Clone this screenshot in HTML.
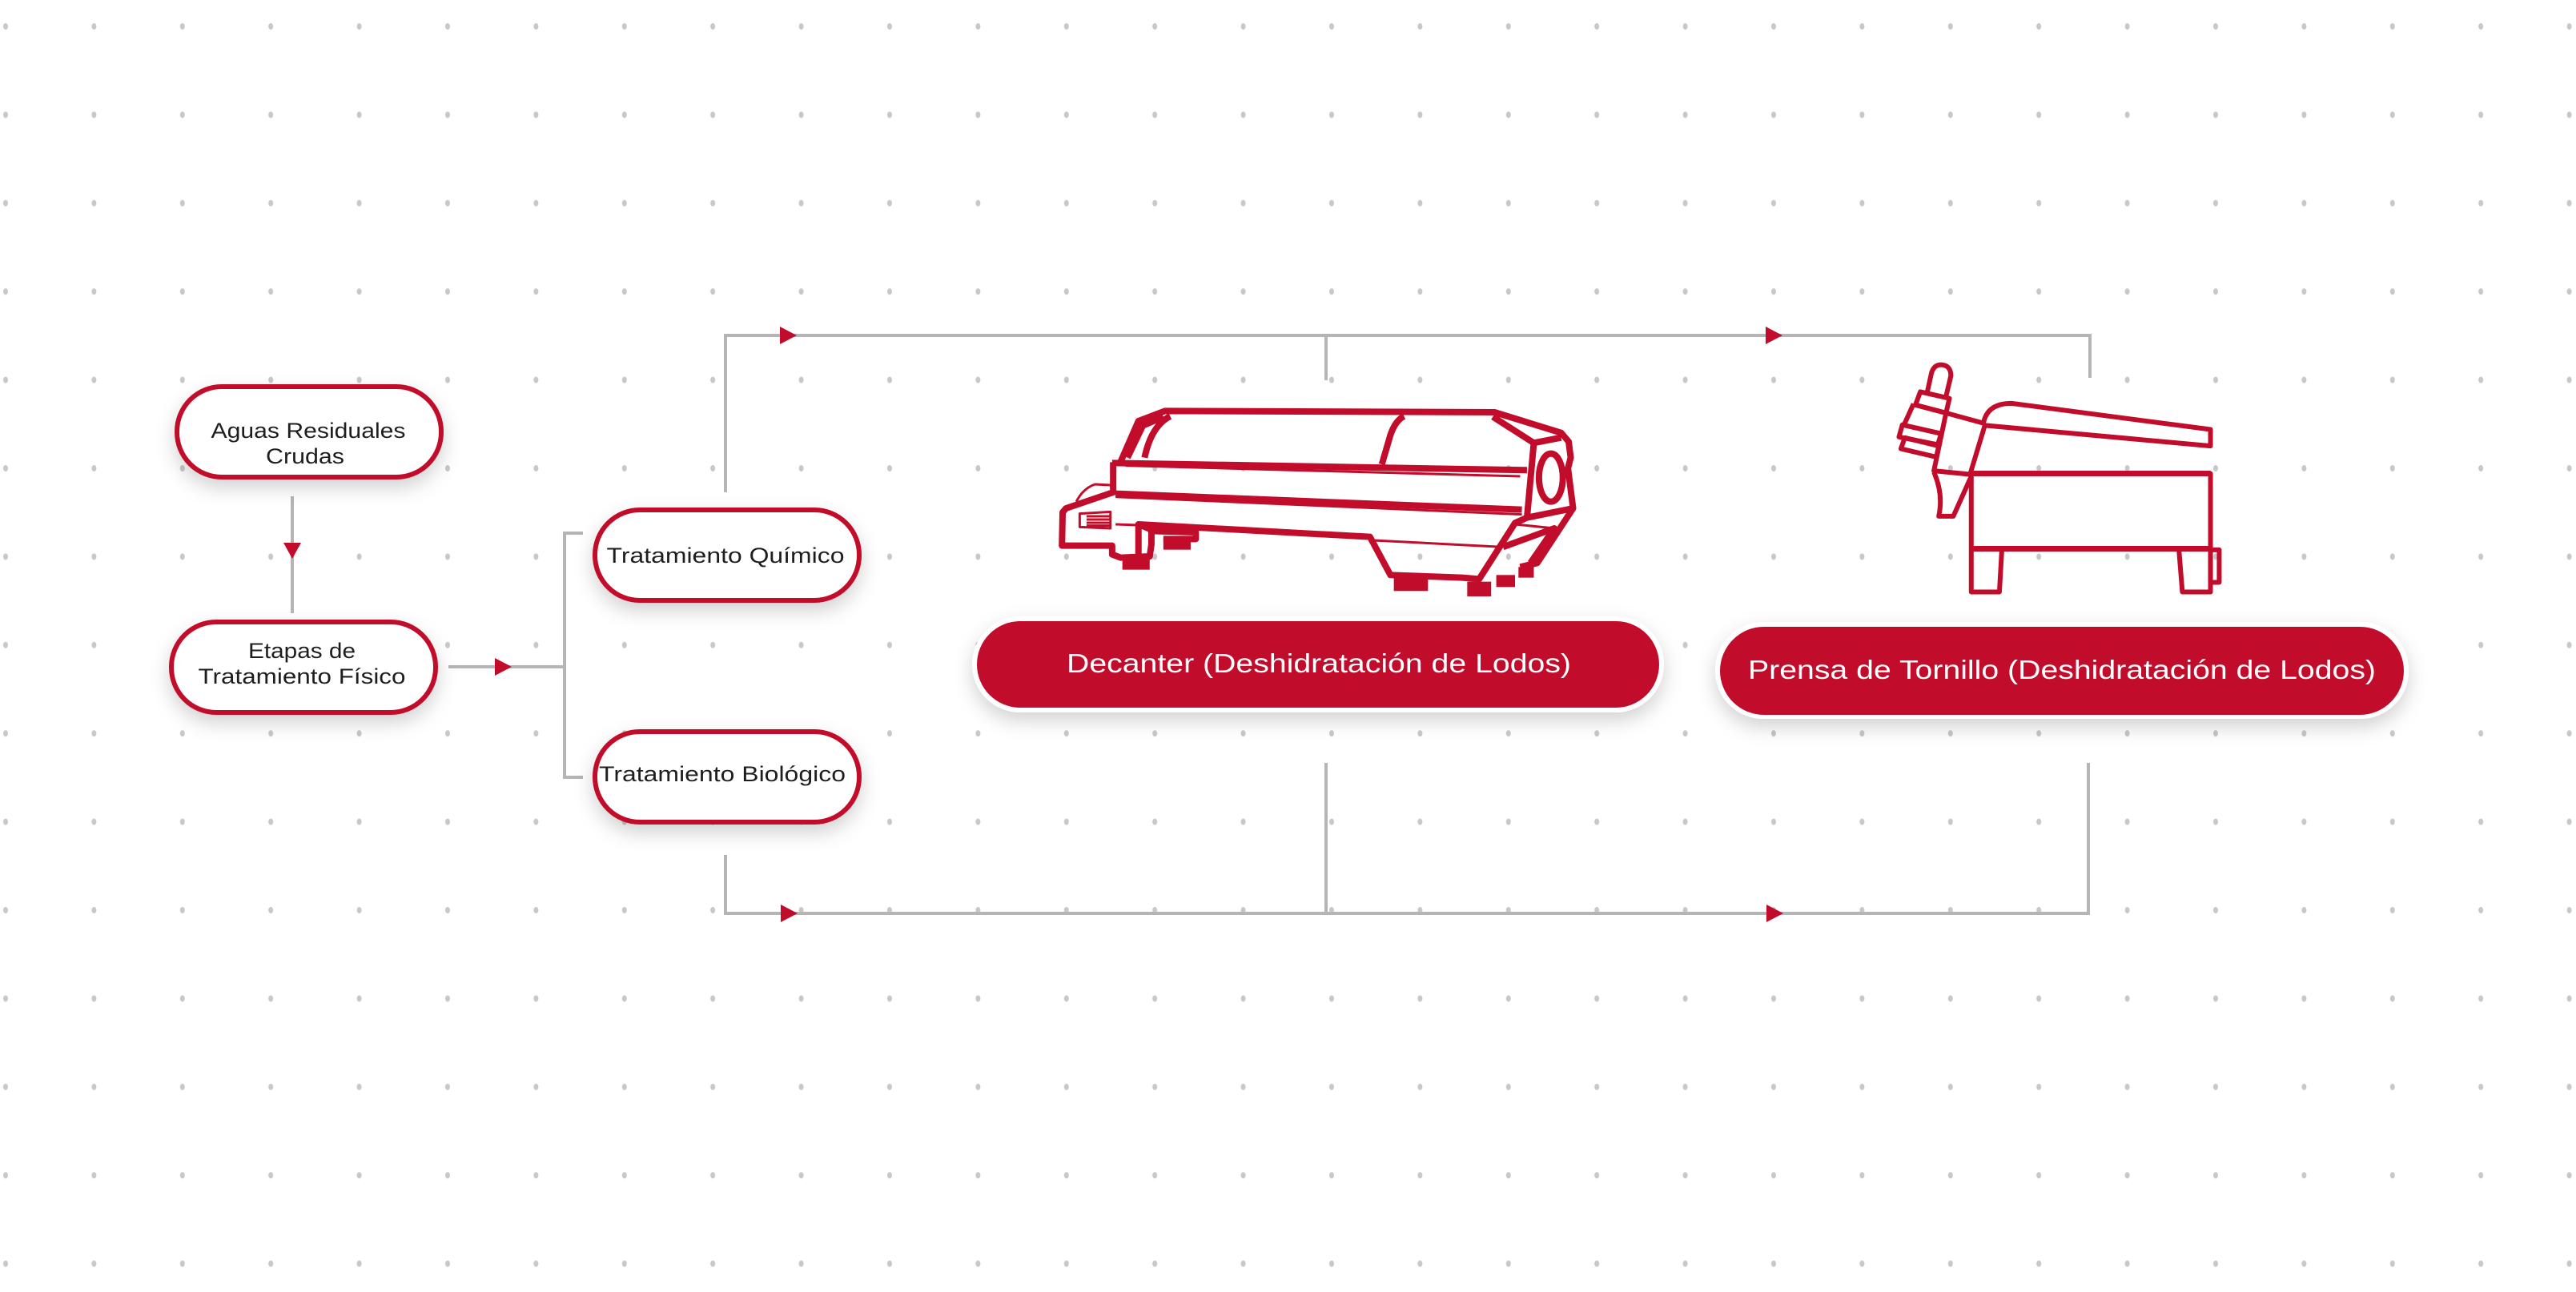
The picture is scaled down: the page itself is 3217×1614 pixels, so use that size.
<!DOCTYPE html>
<html><head><meta charset="utf-8"><style>
html,body{margin:0;padding:0;background:#fff;}
svg{display:block;}
text{font-family:"Liberation Sans",sans-serif;}
</style></head><body>
<svg width="3217" height="1614" viewBox="0 0 3217 1614" xmlns="http://www.w3.org/2000/svg">
<defs>
<pattern id="dots" x="7" y="33" width="110.4" height="110.4" patternUnits="userSpaceOnUse">
<ellipse cx="0" cy="0" rx="3" ry="4" fill="#c8c8c8"/>
<ellipse cx="110.4" cy="0" rx="3" ry="4" fill="#c8c8c8"/>
<ellipse cx="0" cy="110.4" rx="3" ry="4" fill="#c8c8c8"/>
<ellipse cx="110.4" cy="110.4" rx="3" ry="4" fill="#c8c8c8"/>
</pattern>
<filter id="sh" x="-20%" y="-40%" width="140%" height="190%">
<feDropShadow dx="0" dy="10" stdDeviation="12" flood-color="#000" flood-opacity="0.18"/>
</filter>
</defs>
<rect x="0" y="0" width="3217" height="1614" fill="url(#dots)"/>

<g stroke="#b5b5b5" stroke-width="4" fill="none">
<path d="M365 620 V766"/>
<path d="M560 833 H705"/>
<path d="M728 666 H705 V971 H728"/>
<path d="M906 615 V419 H2610 V472"/>
<path d="M1656 419 V475"/>
<path d="M906 1068 V1141 H2608 V953"/>
<path d="M1656 953 V1141"/>
</g>
<g fill="#c20c2b">
<polygon points="354,678 376,678 365,698"/>
<polygon points="618,822 618,844 639,833"/>
<polygon points="974,408 974,430 995,419"/>
<polygon points="2205,408 2205,430 2226,419"/>
<polygon points="975,1130 975,1152 996,1141"/>
<polygon points="2206,1130 2206,1152 2227,1141"/>
</g>

<g filter="url(#sh)" fill="#fff" stroke="#c20c2b" stroke-width="6">
<rect x="221" y="483" width="330" height="113" rx="56"/>
<rect x="214" y="777" width="330" height="113" rx="56"/>
<rect x="743" y="637" width="330" height="113" rx="56"/>
<rect x="743" y="914" width="330" height="113" rx="56"/>
</g>
<g font-size="27" fill="#1e1e1e" text-anchor="middle">
<text x="385" y="547" textLength="243" lengthAdjust="spacingAndGlyphs">Aguas Residuales</text>
<text x="381" y="579" textLength="98" lengthAdjust="spacingAndGlyphs">Crudas</text>
<text x="377" y="822" textLength="134" lengthAdjust="spacingAndGlyphs">Etapas de</text>
<text x="377" y="854" textLength="259" lengthAdjust="spacingAndGlyphs">Tratamiento Físico</text>
<text x="906" y="703" textLength="297" lengthAdjust="spacingAndGlyphs">Tratamiento Químico</text>
<text x="902" y="976" textLength="308" lengthAdjust="spacingAndGlyphs">Tratamiento Biológico</text>
</g>

<g filter="url(#sh)">
<rect x="1214" y="770" width="864" height="120" rx="60" fill="#fff"/>
<rect x="2142" y="777" width="866" height="121" rx="60" fill="#fff"/>
</g>
<rect x="1220" y="776" width="852" height="108" rx="54" fill="#c20c2b"/>
<rect x="2148" y="783" width="854" height="110" rx="55" fill="#c20c2b"/>
<g font-size="33" fill="#fff" text-anchor="middle">
<text x="1647" y="840" textLength="630" lengthAdjust="spacingAndGlyphs">Decanter (Deshidratación de Lodos)</text>
<text x="2575" y="848" textLength="784" lengthAdjust="spacingAndGlyphs">Prensa de Tornillo (Deshidratación de Lodos)</text>
</g>

<g transform="translate(1310,500) scale(0.4264,0.3333)" fill="none" stroke="#c20c2b" stroke-linejoin="round">
<g stroke-width="8">
<path vector-effect="non-scaling-stroke" d="M210,230 L262,78 L340,40 L1305,45 L1500,122 L1522,155 L1528,215 L1520,255 L1535,405 L1400,440 L1420,160 L1300,62"/>
<path vector-effect="non-scaling-stroke" d="M185,235 L1400,262"/>
<path vector-effect="non-scaling-stroke" d="M188,232 L188,345 L50,405 L40,420 L38,545 L185,545 L185,578 L210,590 L295,585 L300,540 L300,485 L262,465 L262,580"/>
<path vector-effect="non-scaling-stroke" d="M280,215 Q300,95 355,60"/>
<path vector-effect="non-scaling-stroke" d="M975,240 L1000,130 Q1015,75 1040,60"/>
<path vector-effect="non-scaling-stroke" d="M230,215 L275,95 L335,62"/>
<path vector-effect="non-scaling-stroke" d="M1420,160 L1500,140"/>
<ellipse vector-effect="non-scaling-stroke" cx="1470" cy="290" rx="35" ry="90"/>
<path vector-effect="non-scaling-stroke" d="M195,350 L1385,410"/>
<path vector-effect="non-scaling-stroke" d="M262,465 L940,512 L1000,655 L1210,665 L1260,670 L1365,460 L1400,440"/>
<path vector-effect="non-scaling-stroke" d="M1535,405 L1430,610 L1380,625"/>
<path vector-effect="non-scaling-stroke" d="M1330,550 L1480,480 L1410,610"/>
<path vector-effect="non-scaling-stroke" d="M300,490 L430,495 L430,520 L335,520"/>
</g>
<g stroke-width="3">
<path vector-effect="non-scaling-stroke" d="M225,245 L1380,285"/>
<path vector-effect="non-scaling-stroke" d="M195,362 L1385,428"/>
<path vector-effect="non-scaling-stroke" d="M195,465 L262,468"/>
<path vector-effect="non-scaling-stroke" d="M950,525 L1330,550"/>
<path vector-effect="non-scaling-stroke" d="M1365,465 L1480,480"/>
<path vector-effect="non-scaling-stroke" d="M80,380 Q100,330 135,315 L180,318 L190,345"/>
<path vector-effect="non-scaling-stroke" d="M90,425 L180,418 L180,480 L90,475 Z M110,435 H180 M110,447 H180 M110,459 H180 M110,470 H180"/>
</g>
<g fill="#c20c2b" stroke="none">
<rect x="215" y="590" width="80" height="45"/>
<rect x="335" y="515" width="80" height="45"/>
<rect x="1010" y="655" width="100" height="60"/>
<rect x="1225" y="680" width="70" height="55"/>
<rect x="1310" y="655" width="55" height="45"/>
<rect x="1375" y="625" width="45" height="40"/>
</g>
</g>

<g transform="translate(2100,380) scale(0.606,0.344)" fill="none" stroke="#c20c2b" stroke-linejoin="round">
<g stroke-width="6">
<path vector-effect="non-scaling-stroke" d="M505,330 L515,250 Q520,220 535,220 Q555,222 555,260 L545,335"/>
<path vector-effect="non-scaling-stroke" d="M492,318 L552,342 L545,395 L482,366 Z"/>
<path vector-effect="non-scaling-stroke" d="M455,438 L535,470 L528,510 L448,482 Z"/>
<path vector-effect="non-scaling-stroke" d="M460,485 L530,515 L525,555 L452,525 Z"/>
<path vector-effect="non-scaling-stroke" d="M478,362 L458,440 M545,395 L520,605 L595,618"/>
<path vector-effect="non-scaling-stroke" d="M482,366 L545,395 L622,432"/>
<path vector-effect="non-scaling-stroke" d="M622,432 Q630,360 680,360 L1090,455 L1090,515 L625,440 L595,615"/>
<rect vector-effect="non-scaling-stroke" x="597" y="615" width="493" height="273"/>
<path vector-effect="non-scaling-stroke" d="M520,610 Q540,690 530,770 L560,770 L597,625"/>
<path vector-effect="non-scaling-stroke" d="M597,888 L597,1045 L655,1045 L660,892 M1025,892 L1032,1045 L1090,1045 L1090,888"/>
<rect vector-effect="non-scaling-stroke" x="1090" y="892" width="18" height="118"/>
</g>
<g stroke-width="7">
<path vector-effect="non-scaling-stroke" d="M597,615 H1090 M597,888 H1090"/>
</g>
</g>
</svg>
</body></html>
